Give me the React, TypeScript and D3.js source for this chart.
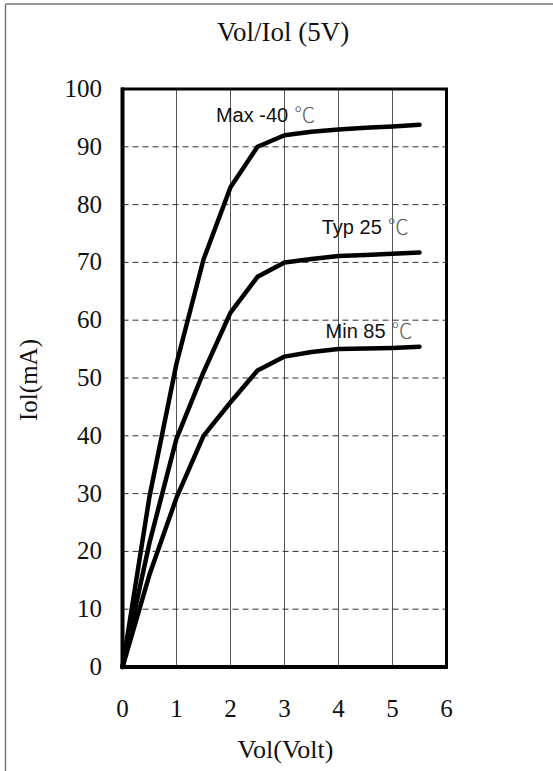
import React from "react";
import * as d3 from "d3";

const voltages = [0, 0.5, 1, 1.5, 2, 2.5, 3, 3.5, 4, 4.5, 5, 5.5];
const maxIol = [0, 29.5, 52.5, 70.5, 83, 90, 92, 92.6, 93, 93.3, 93.5, 93.8];
const typIol = [0, 21.5, 39.5, 51, 61.3, 67.5, 70, 70.6, 71.1, 71.3, 71.5, 71.7];
const minIol = [0, 16, 29.3, 40, 45.8, 51.3, 53.7, 54.5, 55, 55.1, 55.2, 55.4];

const xTicks = [0, 1, 2, 3, 4, 5, 6];
const yTicks = [0, 10, 20, 30, 40, 50, 60, 70, 80, 90, 100];

const seriesLabels = ["Max -40", "Typ 25", "Min 85"];
const labelX = [1.73, 3.69, 3.76];
const labelY = [94.3, 75.0, 57.0];
const unit = "℃";

const title = "Vol/Iol (5V)";
const xTitle = "Vol(Volt)";
const yTitle = "Iol(mA)";

const W = 553;
const H = 771;
const serif = "'Times New Roman', 'Liberation Serif', serif";
const sans = "Arial, 'Liberation Sans', sans-serif";

export default function App() {
  const x = d3.scaleLinear().domain([0, 6]).range([122.5, 446.5]);
  const y = d3.scaleLinear().domain([0, 100]).range([667, 89]);
  const line = d3
    .line<number>()
    .x((_, i) => x(voltages[i]))
    .y((d) => y(d));
  const series = [maxIol, typIol, minIol];

  return (
    <svg
      width={W}
      height={H}
      style={{ position: "absolute", left: 0, top: 0, display: "block", background: "#fff" }}
    >
      <rect x={0} y={0} width={W} height={H} fill="#fff" />
      <line x1={5.5} y1={4} x2={W} y2={4} stroke="#777" strokeWidth={1.5} />
      <line x1={5.5} y1={4} x2={5.5} y2={H} stroke="#777" strokeWidth={1.5} />

      <text x={283} y={41} textAnchor="middle" fontFamily={serif} fontSize={27} fill="#111">
        {title}
      </text>

      {/* vertical grid */}
      {xTicks.slice(1, -1).map((t) => (
        <line key={"vx" + t} x1={x(t)} x2={x(t)} y1={y(100)} y2={y(0)} stroke="#555" strokeWidth={1} />
      ))}
      {/* horizontal dashed grid */}
      {yTicks.slice(1, -1).map((t) => (
        <line
          key={"hy" + t}
          x1={x(0)}
          x2={x(6)}
          y1={y(t)}
          y2={y(t)}
          stroke="#333"
          strokeWidth={1}
          strokeDasharray="6,4"
        />
      ))}

      {/* curves */}
      {series.map((s, i) => (
        <path
          key={"s" + i}
          d={line(s) || ""}
          fill="none"
          stroke="#000"
          strokeWidth={4.5}
          strokeLinejoin="round"
          strokeLinecap="round"
        />
      ))}

      {/* frame */}
      <rect x={x(0)} y={y(100)} width={x(6) - x(0)} height={y(0) - y(100)} fill="none" stroke="#000" strokeWidth={3} />
      <line x1={x(0)} x2={x(0)} y1={y(100) - 1.5} y2={y(0) + 1.5} stroke="#000" strokeWidth={4} />
      <line x1={x(0) - 1.5} x2={x(6) + 1.5} y1={y(0)} y2={y(0)} stroke="#000" strokeWidth={4} />

      {/* series labels */}
      {seriesLabels.map((lab, i) => (
        <text key={"l" + i} x={x(labelX[i])} y={y(labelY[i])} fontFamily={sans} fontSize={20} fill="#111">
          {lab}
          <tspan dx={6} fontFamily="'Noto Sans CJK SC', sans-serif" fontSize={21} fontWeight={300} fill="#666">
            {unit}
          </tspan>
        </text>
      ))}

      {/* y tick labels */}
      {yTicks.map((t) => (
        <text key={"yt" + t} x={102} y={y(t) + 8} textAnchor="end" fontFamily={serif} fontSize={25} fill="#111">
          {t}
        </text>
      ))}
      {/* x tick labels */}
      {xTicks.map((t) => (
        <text key={"xt" + t} x={x(t)} y={716.5} textAnchor="middle" fontFamily={serif} fontSize={25} fill="#111">
          {t}
        </text>
      ))}

      <text x={285.5} y={758} textAnchor="middle" fontFamily={serif} fontSize={26} fill="#111">
        {xTitle}
      </text>
      <text
        transform={`translate(37,380) rotate(-90)`}
        textAnchor="middle"
        fontFamily={serif}
        fontSize={25}
        fill="#111"
      >
        {yTitle}
      </text>
    </svg>
  );
}
